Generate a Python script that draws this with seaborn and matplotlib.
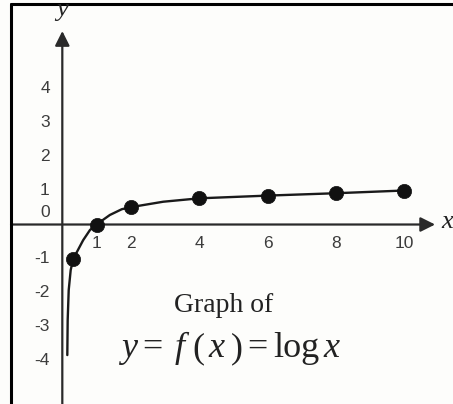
import matplotlib
matplotlib.use("Agg")
import matplotlib.pyplot as plt
import seaborn as sns
from matplotlib.lines import Line2D

# ---- data ----
point_x = [0.32, 1, 2, 4, 6, 8, 10]
point_y = [-1.0, 0.0, 0.51, 0.77, 0.85, 0.92, 1.0]
curve_x = [0.146, 0.157, 0.187, 0.245, 0.32, 0.61, 0.81, 1.0, 1.39, 1.74, 2.0, 2.95, 4, 6, 8, 10]
curve_y = [-3.84, -2.81, -1.93, -1.34, -1.01, -0.46, -0.16, 0.0, 0.28, 0.45, 0.51, 0.67, 0.77, 0.85, 0.92, 1.0]
x_ticks = [1, 2, 4, 6, 8, 10]
y_ticks = [-4, -3, -2, -1, 0, 1, 2, 3, 4]
title_line = "Graph of"
# equation pieces: (text, italic?)
equation_parts = [("y", True), ("=", False), ("f", True), ("(", False), ("x", True),
                  (")", False), ("=", False), ("log", False), ("x", True)]

sns.set_theme(style="white")
plt.rcParams["font.family"] = ["Liberation Sans", "DejaVu Sans"]

W, H = 453, 404
fig = plt.figure(figsize=(W / 100, H / 100), dpi=100)
fig.patch.set_facecolor("#fdfdfb")
ax = fig.add_axes([0, 0, 1, 1])
ax.set_facecolor("#fdfdfb")
ax.set_xlim(-1.822, 11.424)
ax.set_ylim(-5.279, 6.603)
ax.axis("off")

# axes with arrows
ax.annotate("", xy=(10.9, 0), xytext=(-1.5, 0),
            arrowprops=dict(arrowstyle="-|>", color="#2a2a2a", lw=1.6,
                            mutation_scale=22, shrinkA=0, shrinkB=0))
ax.annotate("", xy=(0, 5.69), xytext=(0, -5.4),
            arrowprops=dict(arrowstyle="-|>", color="#2a2a2a", lw=1.6,
                            mutation_scale=22, shrinkA=0, shrinkB=0))

# curve and points
sns.lineplot(x=curve_x, y=curve_y, sort=False, color="#1a1a1a", lw=1.7, ax=ax,
             estimator=None)
sns.scatterplot(x=point_x, y=point_y, color="#111111", s=105, edgecolor="#111111",
                linewidth=0.5, ax=ax, zorder=5)

tick_col = "#3c3c3c"
for xv in x_ticks:
    ax.annotate(str(xv), xy=(xv, 0), xytext=(0, -13.5), textcoords="offset points",
                ha="center", va="center", fontsize=12.5, color=tick_col)
for yv in y_ticks:
    off = 9.0 if yv == 0 else 0
    ax.annotate(str(yv), xy=(0, yv), xytext=(-9, off), textcoords="offset points",
                ha="right", va="center", fontsize=12.5, color=tick_col)

# axis letters
fig.text(447 / W, 1 - 222 / H, "x", fontsize=19, family="Liberation Serif",
         style="italic", ha="center", va="center", color="#222222")
fig.text(62 / W, 1 - 10 / H, "y", fontsize=19, family="Liberation Serif",
         style="italic", ha="center", va="center", color="#222222")

# caption
fig.text(224 / W, 1 - 312 / H, title_line, fontsize=20, family="Liberation Serif",
         ha="center", va="baseline", color="#222222")
part_left_px = [121, 142, 175, 192, 208, 231, 247, 273, 323]
for (txt, ital), px in zip(equation_parts, part_left_px):
    fig.text(px / W, 1 - 357 / H, txt, fontsize=26, family="Liberation Serif",
             style="italic" if ital else "normal", ha="left", va="baseline",
             color="#222222")

# frame borders (left & top)
fig.add_artist(Line2D([11 / W, 11 / W], [0, 1 - 4 / H], transform=fig.transFigure,
                      color="black", lw=2.2))
fig.add_artist(Line2D([11 / W, 1], [1 - 4 / H, 1 - 4 / H], transform=fig.transFigure,
                      color="black", lw=2.2))

fig.savefig("out.png", dpi=100, facecolor=fig.get_facecolor())
